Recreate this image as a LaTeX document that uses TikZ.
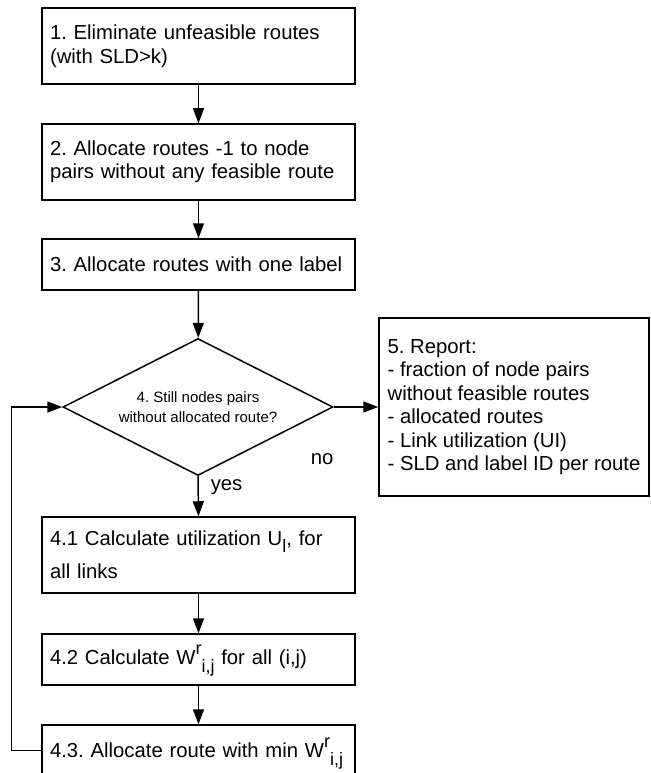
\documentclass[tikz,border=0pt]{standalone}
\usepackage{fontspec}
\setmainfont{Liberation Sans}
\usetikzlibrary{arrows.meta,shapes.geometric}
\frenchspacing
% raised and lowered indices as the boxes print them
\newcommand{\upidx}[1]{\raisebox{10pt}[0pt][0pt]{\fontsize{18}{18}\selectfont #1}}
\newcommand{\lowidx}[2][8pt]{\raisebox{-#1}[0pt][0pt]{\fontsize{18}{18}\selectfont #2}}

\begin{document}
\begin{tikzpicture}[x=1pt, y=-1pt, line width=1.5pt,
    stepbox/.style={draw, fill=white, inner xsep=8pt, inner ysep=0pt, text width=297pt, align=left, font=\fontsize{20.3}{23.5}\selectfont},
    decision/.style={draw, fill=white, diamond, aspect=2, inner sep=0pt, minimum width=270pt, minimum height=137pt, align=center, font=\fontsize{15}{20}\selectfont},
    lbl/.style={inner sep=0pt, font=\fontsize{20.3}{23.5}\selectfont},
    arr/.style={-{Triangle[length=15pt,width=11pt]}}]
    % page frame
    \useasboundingbox (0,0) rectangle (650,773);
    \clip (0,0) rectangle (650,773);
    \fill[white] (0,0) rectangle (650,773);

    % main steps
    \node[stepbox, minimum height=76pt] (elim) at (198.5,46) {1. Eliminate unfeasible routes\\(with SLD>k)};
    \node[stepbox, minimum height=76pt] (alloc1) at (198.5,162) {2. Allocate routes -1 to node\\pairs without any feasible route};
    \node[stepbox, minimum height=51pt] (onelabel) at (198.5,264.5) {3. Allocate routes with one label};
    \node[decision] (still) at (198,407) {4. Still nodes pairs\\without allocated route?};
    \node[draw, fill=white, minimum width=270pt, minimum height=178pt, inner sep=0pt, align=left, font=\fontsize{20.3}{23.5}\selectfont] (report) at (514,407)
        {5. Report:\\- fraction of node pairs\\without feasible routes\\- allocated routes\\- Link utilization (UI)\\- SLD and label ID per route};

    % loop body
    \node[stepbox, minimum height=76pt] (util) at (198.5,555) {4.1 Calculate utilization U\lowidx[7pt]{l}, for\\[9.5pt]all links};
    \node[stepbox, minimum height=51pt] (weight) at (198.5,659.5) {4.2 Calculate W\upidx{r}\lowidx{i,j} for all (i,j)};
    \node[stepbox, minimum height=51pt] (minw) at (198.5,750.5) {4.3. Allocate route with min W\upidx{r}\lowidx{i,j}};

    % branch labels
    \node[lbl, anchor=base west] (no) at (310,464) {no};
    \node[lbl, anchor=base west] (yes) at (210,490) {yes};

    % connecting arrows
    \draw[arr] (elim) -- (alloc1);
    \draw[arr] (alloc1) -- (onelabel);
    \draw[arr] (onelabel) -- (still);
    \draw[arr] (still.east) -- (report.west);
    \draw[arr] (still.south) -- (util.north);
    \draw[arr] (util) -- (weight);
    \draw[arr] (weight) -- (minw);
    \draw[arr] (minw.west) -- ++(-30,0) |- (still.west);
\end{tikzpicture}
\end{document}
